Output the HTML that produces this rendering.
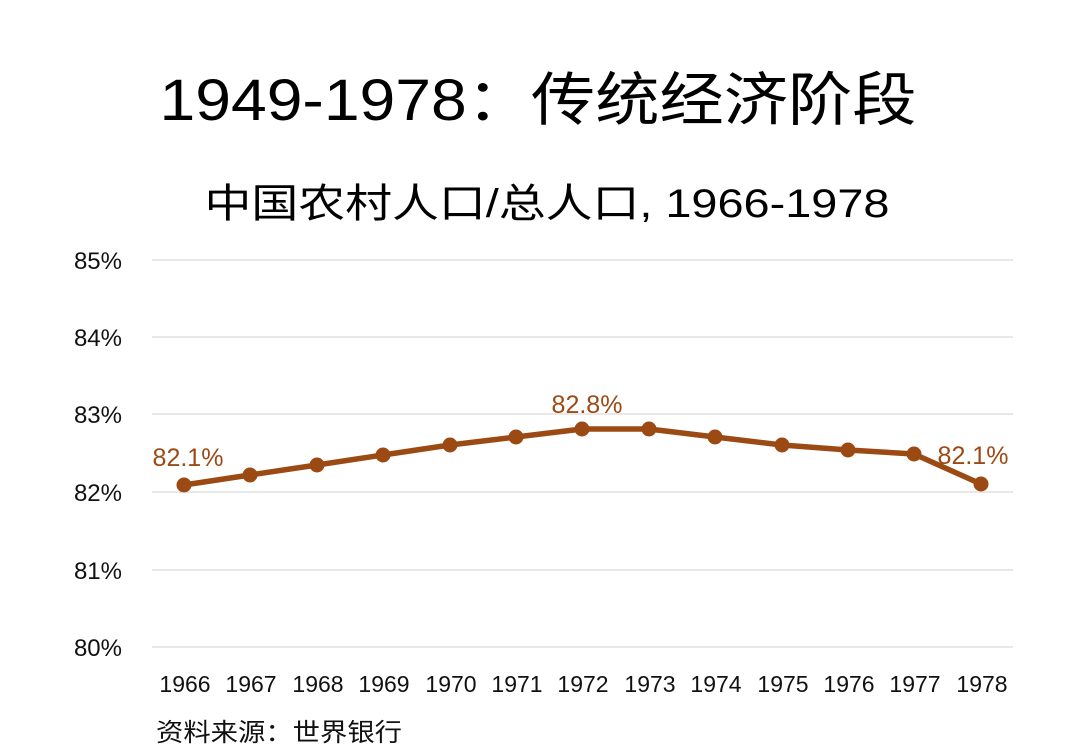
<!DOCTYPE html>
<html><head><meta charset="utf-8"><style>
html,body{margin:0;padding:0;background:#fff;}
svg{display:block;font-family:"Liberation Sans","Noto Sans CJK SC",sans-serif;}
</style></head><body>
<svg width="1080" height="756" viewBox="0 0 1080 756" xmlns="http://www.w3.org/2000/svg">
<text x="538" y="120" font-size="58" text-anchor="middle" fill="#000" textLength="757" lengthAdjust="spacingAndGlyphs">1949-1978：传统经济阶段</text>
<text x="547" y="217" font-size="40" text-anchor="middle" fill="#000" textLength="685" lengthAdjust="spacingAndGlyphs">中国农村人口/总人口, 1966-1978</text>
<g stroke="#d9d9d9" stroke-width="1.3">
<line x1="152" y1="260" x2="1013" y2="260"/><line x1="152" y1="337" x2="1013" y2="337"/>
<line x1="152" y1="414" x2="1013" y2="414"/><line x1="152" y1="492" x2="1013" y2="492"/>
<line x1="152" y1="570" x2="1013" y2="570"/><line x1="152" y1="647" x2="1013" y2="647"/>
</g>
<g font-size="24" fill="#111" text-anchor="end">
<text x="122" y="269">85%</text><text x="122" y="346">84%</text><text x="122" y="423">83%</text>
<text x="122" y="501">82%</text><text x="122" y="579">81%</text><text x="122" y="656">80%</text>
</g>
<g font-size="23" fill="#111" text-anchor="middle">
<text x="185" y="692">1966</text><text x="251" y="692">1967</text><text x="318" y="692">1968</text>
<text x="384" y="692">1969</text><text x="451" y="692">1970</text><text x="517" y="692">1971</text>
<text x="583" y="692">1972</text><text x="650" y="692">1973</text><text x="716" y="692">1974</text>
<text x="783" y="692">1975</text><text x="849" y="692">1976</text><text x="915" y="692">1977</text>
<text x="982" y="692">1978</text>
</g>
<polyline fill="none" stroke="#9c4a14" stroke-width="5.5" stroke-linejoin="round"
points="184,485 250,475 317,465 383,455 450,445 516,437 582,429 649,429 715,437 782,445 848,450 914,454 981,484"/>
<g fill="#9c4a14">
<circle cx="184" cy="485" r="7.5"/><circle cx="250" cy="475" r="7.5"/><circle cx="317" cy="465" r="7.5"/>
<circle cx="383" cy="455" r="7.5"/><circle cx="450" cy="445" r="7.5"/><circle cx="516" cy="437" r="7.5"/>
<circle cx="582" cy="429" r="7.5"/><circle cx="649" cy="429" r="7.5"/><circle cx="715" cy="437" r="7.5"/>
<circle cx="782" cy="445" r="7.5"/><circle cx="848" cy="450" r="7.5"/><circle cx="914" cy="454" r="7.5"/>
<circle cx="981" cy="484" r="7.5"/>
</g>
<g font-size="25" fill="#9c4a14" text-anchor="middle">
<text x="188" y="466">82.1%</text><text x="587" y="413">82.8%</text><text x="973" y="464">82.1%</text>
</g>
<text x="156" y="741" font-size="25" fill="#111" textLength="246" lengthAdjust="spacingAndGlyphs">资料来源：世界银行</text>
</svg>
</body></html>
